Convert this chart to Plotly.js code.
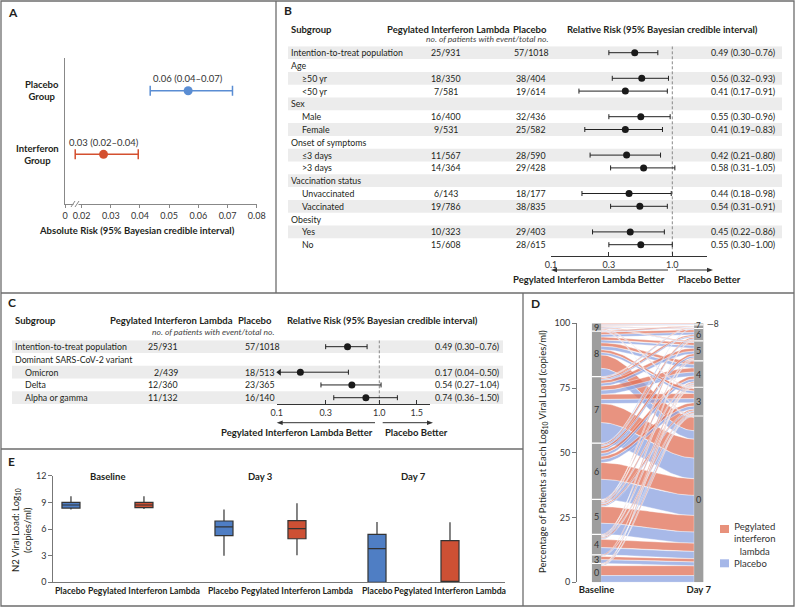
<!DOCTYPE html>
<html><head><meta charset="utf-8">
<script src="https://cdn.plot.ly/plotly-3.0.1.min.js"></script>
<style>body{margin:0;background:#fff}#chart{width:795px;height:608px}</style>
</head><body><div id="chart"></div>
<script>
const W = 795, H = 608;
const FONT = 'Lato, "Noto Sans", sans-serif';
const INK = '#231f20';

// ---------- Panel A data ----------
const absGroups = ['Placebo Group', 'Interferon Group'];
const absRisk = [0.0565, 0.0275];
const absLow = [0.0435, 0.0178];
const absHigh = [0.0717, 0.0394];
const absLabels = ['0.06 (0.04–0.07)', '0.03 (0.02–0.04)'];
const absTickText = ['0', '0.02', '0.03', '0.04', '0.05', '0.06', '0.07', '0.08'];
const absTickVals = [0.02, 0.03, 0.04, 0.05, 0.06, 0.07, 0.08];

// ---------- Panel B data ----------
const subB = ['Intention-to-treat population', 'Age', '≥50 yr', '<50 yr', 'Sex', 'Male', 'Female',
  'Onset of symptoms', '≤3 days', '>3 days', 'Vaccination status', 'Unvaccinated', 'Vaccinated',
  'Obesity', 'Yes', 'No'];
const ifnB = ['25/931', null, '18/350', '7/581', null, '16/400', '9/531', null, '11/567', '14/364',
  null, '6/143', '19/786', null, '10/323', '15/608'];
const plaB = ['57/1018', null, '38/404', '19/614', null, '32/436', '25/582', null, '28/590', '29/428',
  null, '18/177', '38/835', null, '29/403', '28/615'];
const rrB = [0.49, null, 0.56, 0.41, null, 0.55, 0.41, null, 0.42, 0.58, null, 0.44, 0.54, null, 0.45, 0.55];
const loB = [0.30, null, 0.32, 0.17, null, 0.30, 0.19, null, 0.21, 0.31, null, 0.18, 0.31, null, 0.22, 0.30];
const hiB = [0.76, null, 0.93, 0.91, null, 0.96, 0.83, null, 0.80, 1.05, null, 0.98, 0.91, null, 0.86, 1.00];
const rrTicksB = [0.1, 0.3, 1];
const rrTickTextB = ['0.1', '0.3', '1.0'];

// ---------- Panel C data ----------
const subC = ['Intention-to-treat population', 'Dominant SARS-CoV-2 variant', 'Omicron', 'Delta', 'Alpha or gamma'];
const ifnC = ['25/931', null, '2/439', '12/360', '11/132'];
const plaC = ['57/1018', null, '18/513', '23/365', '16/140'];
const rrC = [0.49, null, 0.17, 0.54, 0.74];
const loC = [0.30, null, 0.04, 0.27, 0.36];
const hiC = [0.76, null, 0.50, 1.04, 1.50];
const rrTicksC = [0.1, 0.3, 1, 2.315];
const rrTickTextC = ['0.1', '0.3', '1.0', '1.5'];

// ---------- Panel E data (per arm, one value per time point) ----------
const eTimes = ['Baseline', 'Day 3', 'Day 7'];
const eArms = ['Placebo', 'Pegylated Interferon Lambda'];
const plaQ1 = [8.35, 5.25, 0], plaMed = [8.7, 6.25, 3.8], plaQ3 = [9.0, 6.9, 5.4], plaLo = [8.2, 3.0, 0], plaHi = [9.7, 8.2, 6.8];
const ifnQ1 = [8.4, 4.9, 0], ifnMed = [8.7, 6.05, 0], ifnQ3 = [9.0, 6.95, 4.7], ifnLo = [8.25, 3.05, 0], ifnHi = [9.7, 8.9, 6.75];
const eTicks = [0, 3, 6, 9, 12];

// ---------- Panel D data (alluvial flows, % of patients) ----------
const flowFrom = [0,0,0,0,0,0, 3,3,3,3, 4,4,4,4,4,4,4,4, 5,5,5,5,5,5,5,5,5,5,
  6,6,6,6,6,6,6,6,6,6,6, 7,7,7,7,7,7,7,7,7,7,7,7, 8,8,8,8,8,8,8,8,8,8,8,8, 9,9,9,9,9,9,9,9,9,9,9,9];
const flowTo = [0,0,3,3,4,4, 0,0,3,4, 0,0,3,3,4,4,5,5, 0,0,3,3,4,4,5,5,6,6,
  0,0,3,3,4,4,5,5,6,6,7, 0,0,3,3,4,4,5,5,6,6,7,7, 0,0,3,3,4,4,5,5,6,6,7,7, 0,0,3,3,5,5,6,6,7,7,8,8];
const flowGroup = ['P','I','P','I','P','I', 'P','I','P','I', 'P','I','P','I','P','I','P','I',
  'P','I','P','I','P','I','P','I','P','I', 'P','I','P','I','P','I','P','I','P','I','P',
  'P','I','P','I','P','I','P','I','P','I','P','I', 'P','I','P','I','P','I','P','I','P','I','P','I',
  'P','I','P','I','P','I','P','I','P','I','P','I'];
const flowPct = [2.6,3.8,0.3,0.2,0.2,0.2, 1.5,1.2,0.3,0.3, 2.8,3.2,0.4,0.4,0.3,0.3,0.3,0.2,
  4.3,6.4,0.5,0.5,0.4,0.4,0.3,0.3,0.2,0.2, 7.8,6.4,1.3,1.2,1.1,1.1,0.8,0.8,0.5,0.5,0.2,
  8.0,7.3,1.6,2.0,1.6,1.6,1.1,1.1,0.5,0.5,0.2,0.2, 3.2,5.2,1.0,1.0,1.4,1.3,1.1,1.1,1.0,0.9,0.2,0.2,
  0.2,0.3,0.2,0.2,0.3,0.3,0.3,0.2,0.2,0.2,0.3,0.3];
const dTimes = ['Baseline', 'Day 7'];
const dGroups = ['Pegylated<br>interferon<br>lambda', 'Placebo'];

// ---------- colours ----------
const BLUE_A = '#5a8dd3', RED_A = '#d4502f';
const BLUE_E = '#4f7ec4', RED_E = '#cd5034';
const FLOW_I = 'rgba(226,117,92,0.78)', FLOW_P = 'rgba(143,165,226,0.78)';
const SW_I = '#e8917b', SW_P = '#a5b7e8';

const shapes = [], ann = [], traces = [];

function T(text, x, y, o = {}) {
  const a = {
    text, showarrow: false, xanchor: o.anchor || 'center', yanchor: 'middle',
    xref: o.xref || 'paper', yref: o.yref || 'paper',
    x: o.xref ? x : x / W, y: o.yref ? y : 1 - y / H,
    font: {family: FONT, size: o.size || 9, color: o.color || INK,
      weight: o.bold ? 'bold' : 'normal', style: o.italic ? 'italic' : 'normal'},
    textangle: o.angle || 0
  };
  if (o.yshift) a.yshift = o.yshift;
  ann.push(a);
}
function lineP(x0, y0, x1, y1, color, width, dash) {
  shapes.push({type: 'line', xref: 'paper', yref: 'paper', x0: x0 / W, x1: x1 / W, y0: 1 - y0 / H, y1: 1 - y1 / H,
    line: {color, width, dash: dash || 'solid'}});
}
function arrowP(headX, tailX, y) {
  const dir = headX < tailX ? 1 : -1;
  lineP(tailX, y, headX + dir * 4, y, '#333', 1);
  const px = v => v / W, py = v => 1 - v / H;
  const p = `M ${px(headX)} ${py(y)} L ${px(headX + dir * 6)} ${py(y - 2.2)} L ${px(headX + dir * 6)} ${py(y + 2.2)} Z`;
  shapes.push({type: 'path', xref: 'paper', yref: 'paper', path: p, fillcolor: '#333', line: {width: 0}});
}
const fmt = (r, l, h) => `${r.toFixed(2)} (${l.toFixed(2)}–${h.toFixed(2)})`;

// ---------- borders ----------
shapes.push({type: 'rect', xref: 'paper', yref: 'paper', x0: 1 / W, x1: 794 / W, y0: 1 - 606 / H, y1: 1 - 1 / H,
  line: {color: '#6d6d6d', width: 1.3}});
lineP(276, 1, 276, 293, '#6d6d6d', 1.3);
lineP(1, 293, 794, 293, '#6d6d6d', 1.3);
lineP(523, 293, 523, 606, '#6d6d6d', 1.3);
lineP(1, 449, 523, 449, '#6d6d6d', 1.3);

// ---------- Panel A ----------
T('A', 6, 12, {anchor: 'left', bold: true, size: 12});
const aMin = 0.0143;
absGroups.forEach((g, i) => {
  const col = i === 0 ? BLUE_A : RED_A;
  traces.push({type: 'scatter', mode: 'markers', x: [absRisk[i]], y: [g], xaxis: 'x', yaxis: 'y',
    marker: {size: 9, color: col},
    error_x: {type: 'data', symmetric: false, array: [absHigh[i] - absRisk[i]], arrayminus: [absRisk[i] - absLow[i]],
      color: col, thickness: 1.5, width: 5}, hoverinfo: 'skip'});
  T(absLabels[i], absRisk[i], g, {xref: 'x', yref: 'y', yshift: 12, color: '#333', size: 9.5});
  T(g.replace(' ', '<br>'), 61, g, {anchor: 'right', yref: 'y', bold: true, size: 9.5});
});
T('Absolute Risk (95% Bayesian credible interval)', 137, 230, {bold: true, size: 9.5});
shapes.push({type: 'rect', xref: 'paper', yref: 'paper', x0: 73.5 / W, x1: 78.5 / W, y0: 1 - 206 / H, y1: 1 - 202 / H,
  fillcolor: '#fff', line: {width: 0}});
lineP(71, 207, 75, 201, '#888', 1);
lineP(75, 207, 79, 201, '#888', 1);

// ---------- Panel B ----------
T('B', 282, 11, {anchor: 'left', bold: true, size: 12});
T('Subgroup', 289, 29, {anchor: 'left', bold: true, size: 9.5});
T('Pegylated Interferon Lambda', 448, 29, {bold: true, size: 9.5});
T('Placebo', 530, 29, {bold: true, size: 9.5});
T('Relative Risk (95% Bayesian credible interval)', 662, 29, {bold: true, size: 9.5});
T('no. of patients with event/total no.', 487, 38.5, {italic: true, size: 8.5, color: '#444'});
subB.forEach((s, i) => {
  const head = rrB[i] === null;
  const indent = !head && i > 0;
  if (i % 2 === 0) shapes.push({type: 'rect', xref: 'paper', yref: 'y2', x0: 288 / W, x1: 782 / W,
    y0: i - 0.5, y1: i + 0.5, fillcolor: '#ececec', line: {width: 0}, layer: 'below'});
  T(s, indent ? 300 : 289, i, {anchor: 'left', yref: 'y2', size: 8.8});
  if (!head) {
    T(ifnB[i], 446, i, {yref: 'y2', size: 8.8});
    T(plaB[i], 531, i, {yref: 'y2', size: 8.8});
    T(fmt(rrB[i], loB[i], hiB[i]), 777, i, {anchor: 'right', yref: 'y2', size: 8.8});
  }
});
const rowsB = rrB.map((v, i) => i).filter(i => rrB[i] !== null);
const yTopB = -0.5, yBotB = 15.906;
traces.push({type: 'scatter', mode: 'lines', x: [1, 1], y: [yTopB, yBotB], xaxis: 'x2', yaxis: 'y2',
  line: {color: '#888', width: 1, dash: '3px,2px'}, hoverinfo: 'skip'});
traces.push({type: 'scatter', mode: 'markers', xaxis: 'x2', yaxis: 'y2',
  x: rowsB.map(i => rrB[i]), y: rowsB,
  marker: {size: 7, color: '#1a1a1a'},
  error_x: {type: 'data', symmetric: false, array: rowsB.map(i => hiB[i] - rrB[i]),
    arrayminus: rowsB.map(i => rrB[i] - loB[i]), color: '#222', thickness: 1, width: 2.5}, hoverinfo: 'skip'});
arrowP(551, 668, 270);
arrowP(713, 676, 270);
T('Pegylated Interferon Lambda Better', 667, 279.5, {anchor: 'right', bold: true, size: 9.5});
T('Placebo Better', 676, 279.5, {anchor: 'left', bold: true, size: 9.5});

// ---------- Panel C ----------
T('C', 6, 302, {anchor: 'left', bold: true, size: 12});
T('Subgroup', 13, 320, {anchor: 'left', bold: true, size: 9.5});
T('Pegylated Interferon Lambda', 171, 320, {bold: true, size: 9.5});
T('Placebo', 255, 320, {bold: true, size: 9.5});
T('Relative Risk (95% Bayesian credible interval)', 382, 320, {bold: true, size: 9.5});
T('no. of patients with event/total no.', 213, 331.7, {italic: true, size: 8.5, color: '#444'});
subC.forEach((s, i) => {
  const head = rrC[i] === null;
  const indent = !head && i > 0;
  if (i % 2 === 0) shapes.push({type: 'rect', xref: 'paper', yref: 'y3', x0: 12 / W, x1: 503 / W,
    y0: i - 0.5, y1: i + 0.5, fillcolor: '#ececec', line: {width: 0}, layer: 'below'});
  T(s, indent ? 23.3 : 13, i, {anchor: 'left', yref: 'y3', size: 8.8});
  if (!head) {
    T(ifnC[i], 180, i, {anchor: 'right', yref: 'y3', size: 8.8});
    T(plaC[i], 243, i, {anchor: 'left', yref: 'y3', size: 8.8});
    T(fmt(rrC[i], loC[i], hiC[i]), 501, i, {anchor: 'right', yref: 'y3', size: 8.8});
  }
});
const cMin = 0.1;
const rowsC = rrC.map((v, i) => i).filter(i => rrC[i] !== null);
const rowsCin = rowsC.filter(i => loC[i] >= cMin);
const rowsCout = rowsC.filter(i => loC[i] < cMin);
traces.push({type: 'scatter', mode: 'lines', x: [1, 1], y: [-0.5, 4.518], xaxis: 'x3', yaxis: 'y3',
  line: {color: '#888', width: 1, dash: '3px,2px'}, hoverinfo: 'skip'});
traces.push({type: 'scatter', mode: 'markers', xaxis: 'x3', yaxis: 'y3',
  x: rowsCin.map(i => rrC[i]), y: rowsCin, marker: {size: 7, color: '#1a1a1a'},
  error_x: {type: 'data', symmetric: false, array: rowsCin.map(i => hiC[i] - rrC[i]),
    arrayminus: rowsCin.map(i => rrC[i] - loC[i]), color: '#222', thickness: 1, width: 2.5}, hoverinfo: 'skip'});
rowsCout.forEach(i => {
  traces.push({type: 'scatter', mode: 'lines', x: [cMin * 1.04, rrC[i]], y: [i, i], xaxis: 'x3', yaxis: 'y3',
    line: {color: '#222', width: 1}, hoverinfo: 'skip'});
  traces.push({type: 'scatter', mode: 'markers', x: [cMin * 1.06], y: [i], xaxis: 'x3', yaxis: 'y3', cliponaxis: false,
    marker: {symbol: 'triangle-left', size: 6, color: '#222'}, hoverinfo: 'skip'});
  traces.push({type: 'scatter', mode: 'markers', xaxis: 'x3', yaxis: 'y3', x: [rrC[i]], y: [i],
    marker: {size: 7, color: '#1a1a1a'},
    error_x: {type: 'data', symmetric: false, array: [hiC[i] - rrC[i]], arrayminus: [0], color: '#222', thickness: 1, width: 2.5},
    hoverinfo: 'skip'});
});
arrowP(276.7, 375, 422.7);
arrowP(433, 382.7, 422.7);
T('Pegylated Interferon Lambda Better', 375, 432, {anchor: 'right', bold: true, size: 9.5});
T('Placebo Better', 383.3, 432, {anchor: 'left', bold: true, size: 9.5});

// ---------- Panel E ----------
T('E', 6, 462, {anchor: 'left', bold: true, size: 12});
const BOXGAP = 0.046, BOXGROUPGAP = 0.753;
const armOff = (1 - BOXGAP) / 4;
[[plaQ1, plaMed, plaQ3, plaLo, plaHi, BLUE_E], [ifnQ1, ifnMed, ifnQ3, ifnLo, ifnHi, RED_E]].forEach((d, a) => {
  traces.push({type: 'box', xaxis: 'x4', yaxis: 'y4', name: eArms[a], x: eTimes,
    q1: d[0], median: d[1], q3: d[2], lowerfence: d[3], upperfence: d[4], fillcolor: d[5],
    line: {color: '#333', width: 1.2}, whiskerwidth: 0, boxpoints: false, hoverinfo: 'skip'});
  eTimes.forEach((t, k) => T(eArms[a], k + (a ? armOff : -armOff), 590, {xref: 'x4', bold: true, size: 8.7}));
});
eTimes.forEach((t, k) => T(t, k, 476.7, {xref: 'x4', bold: true, size: 9.5}));
T('N2 Viral Load: Log<sub>10</sub><br>(copies/ml)', 21, 530, {angle: -90, size: 9.5});

// ---------- Panel D ----------
T('D', 529, 303, {anchor: 'left', bold: true, size: 12});
const levelsB = [...new Set(flowFrom)].sort((a, b) => a - b);
const levelsD = [...new Set(flowTo)].sort((a, b) => a - b);
const idx = flowPct.map((_, i) => i);
const gOrd = i => flowGroup[i] === 'P' ? 0 : 1;
const total = flowPct.reduce((s, v) => s + v, 0);
const sc = 100 / total;
const bLo = [], bHi = [], dLo = [], dHi = [];
let cum = 0;
idx.slice().sort((a, b) => flowFrom[a] - flowFrom[b] || flowTo[a] - flowTo[b] || gOrd(a) - gOrd(b))
  .forEach(i => { bLo[i] = cum; cum += flowPct[i] * sc; bHi[i] = cum; });
cum = 0;
idx.slice().sort((a, b) => flowTo[a] - flowTo[b] || flowFrom[a] - flowFrom[b] || gOrd(a) - gOrd(b))
  .forEach(i => { dLo[i] = cum; cum += flowPct[i] * sc; dHi[i] = cum; });
const half = 0.045, xL = half, xR = 1 - half, NS = 40;
const sm = t => t * t * (3 - 2 * t);
idx.slice().sort((a, b) => flowPct[b] - flowPct[a]).forEach(i => {
  const xs = [], ys = [];
  for (let k = 0; k <= NS; k++) { const t = k / NS, s = sm(t); xs.push(xL + (xR - xL) * t); ys.push(bLo[i] + (dLo[i] - bLo[i]) * s); }
  for (let k = NS; k >= 0; k--) { const t = k / NS, s = sm(t); xs.push(xL + (xR - xL) * t); ys.push(bHi[i] + (dHi[i] - bHi[i]) * s); }
  traces.push({type: 'scatter', mode: 'lines', x: xs, y: ys, xaxis: 'x5', yaxis: 'y5', fill: 'toself',
    fillcolor: flowGroup[i] === 'I' ? FLOW_I : FLOW_P, line: {color: 'rgba(255,255,255,0.8)', width: 0.5}, hoverinfo: 'skip'});
});
function strata(levels, arr, lo, hi, xc, skip) {
  levels.forEach(L => {
    const ids = idx.filter(i => arr[i] === L);
    const y0 = Math.min(...ids.map(i => lo[i])), y1 = Math.max(...ids.map(i => hi[i]));
    shapes.push({type: 'rect', xref: 'x5', yref: 'y5', x0: xc - half, x1: xc + half, y0, y1, fillcolor: '#9e9e9e', line: {width: 0}});
    if (y0 > 0.01) shapes.push({type: 'line', xref: 'x5', yref: 'y5', x0: xc - half, x1: xc + half, y0, y1: y0, line: {color: '#fff', width: 1.2}});
    const small = (y1 - y0) < 2;
    if (skip.indexOf(L) < 0) T(String(L), xc, small ? y1 : (y0 + y1) / 2, {xref: 'x5', yref: 'y5', color: '#333', size: small ? 8 : 9});
    else T('—' + L, xc + half + 0.02, Math.min(99.6, y1 + 0.3), {xref: 'x5', yref: 'y5', anchor: 'left', color: '#333', size: 8.5});
  });
}
strata(levelsB, flowFrom, bLo, bHi, 0, []);
strata(levelsD, flowTo, dLo, dHi, 1, [8]);
T('Percentage of Patients at Each Log<sub>10</sub> Viral Load (copies/ml)', 543, 452, {angle: -90, size: 9.5});
[[SW_I, 525], [SW_P, 559.3]].forEach(s => {
  shapes.push({type: 'rect', xref: 'paper', yref: 'paper', x0: 720 / W, x1: 729 / W, y0: 1 - (s[1] + 8) / H, y1: 1 - s[1] / H,
    fillcolor: s[0], line: {width: 0}});
});
T(dGroups[0], 732, 539, {anchor: 'left', size: 9.5, color: '#333'});
T(dGroups[1], 732, 563.3, {anchor: 'left', size: 9.5, color: '#333'});

// ---------- layout ----------
const axBase = {showgrid: false, zeroline: false, fixedrange: true};
const tf = {family: FONT, size: 9, color: '#333'};
const layout = {
  width: W, height: H, margin: {l: 0, r: 0, t: 0, b: 0}, paper_bgcolor: '#fff', plot_bgcolor: 'rgba(0,0,0,0)',
  showlegend: false, shapes, annotations: ann, font: {family: FONT, color: INK},
  boxmode: 'group', boxgap: BOXGAP, boxgroupgap: BOXGROUPGAP,
  xaxis: Object.assign({}, axBase, {domain: [65 / W, 257 / W], range: [aMin, 0.0801], anchor: 'y',
    showline: true, linecolor: '#888', linewidth: 1, ticks: 'outside', ticklen: 3, tickcolor: '#888',
    tickvals: [aMin].concat(absTickVals), ticktext: absTickText, tickfont: tf, tickangle: 0}),
  yaxis: Object.assign({}, axBase, {domain: [1 - 204 / H, 1 - 58 / H], range: [-0.781, 1.514], type: 'category',
    categoryarray: absGroups.slice().reverse(), anchor: 'x', showline: true, linecolor: '#888', linewidth: 1,
    showticklabels: false, ticks: ''}),
  xaxis2: Object.assign({}, axBase, {domain: [551 / W, 706.7 / W], type: 'log', range: [-1, 0.2836], anchor: 'y2',
    showline: true, linecolor: '#333', linewidth: 1, ticks: 'inside', ticklen: 4, tickcolor: '#333',
    tickvals: rrTicksB, ticktext: rrTickTextB, tickfont: tf, tickangle: 0}),
  yaxis2: Object.assign({}, axBase, {domain: [1 - 256.3 / H, 1 - 46.3 / H], range: [yBotB, yTopB], anchor: 'x2', visible: false}),
  xaxis3: Object.assign({}, axBase, {domain: [276.7 / W, 430 / W], type: 'log', range: [-1, 0.494], anchor: 'y3',
    showline: true, linecolor: '#333', linewidth: 1, ticks: 'inside', ticklen: 4, tickcolor: '#333',
    tickvals: rrTicksC, ticktext: rrTickTextC, tickfont: tf, tickangle: 0}),
  yaxis3: Object.assign({}, axBase, {domain: [1 - 404.3 / H, 1 - 340.3 / H], range: [4.518, -0.5], anchor: 'x3', visible: false}),
  xaxis4: Object.assign({}, axBase, {domain: [53.3 / W, 505 / W], type: 'category', categoryarray: eTimes,
    range: [-0.354, 2.598], anchor: 'y4',
    showline: true, linecolor: '#777', linewidth: 1, ticks: '', showticklabels: false}),
  yaxis4: Object.assign({}, axBase, {domain: [1 - 582.3 / H, 1 - 475.7 / H], range: [0, 12], anchor: 'x4',
    showline: true, linecolor: '#777', linewidth: 1, ticks: 'outside', ticklen: 4, tickcolor: '#777',
    tickvals: eTicks, tickfont: tf}),
  xaxis5: Object.assign({}, axBase, {domain: [577 / W, 720 / W], range: [-0.191, 1.208], anchor: 'y5',
    showline: false, ticks: '', tickvals: [0, 1], ticktext: dTimes, tickangle: 0,
    tickfont: {family: FONT, size: 9.5, color: INK, weight: 'bold'}}),
  yaxis5: Object.assign({}, axBase, {domain: [1 - 582.3 / H, 1 - 323.3 / H], range: [0, 100], anchor: 'x5',
    showline: true, linecolor: '#777', linewidth: 1, ticks: 'outside', ticklen: 4, tickcolor: '#777',
    tickvals: [0, 25, 50, 75, 100], tickfont: tf})
};
Plotly.newPlot('chart', traces, layout, {staticPlot: true, displayModeBar: false});
</script></body></html>
